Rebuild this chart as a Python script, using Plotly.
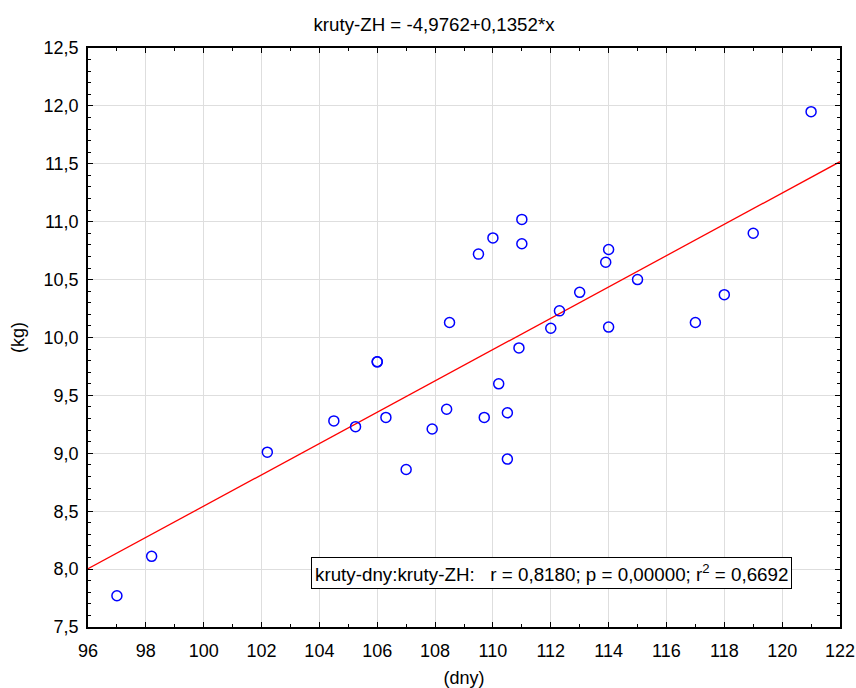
import numpy as np
import plotly.graph_objects as go

# Data
days = [97.0, 98.2, 102.2, 104.5, 105.25, 106.0, 106.0, 106.3, 107.0, 107.9,
        108.4, 108.5, 109.5, 110.0, 110.2, 109.7, 110.5, 110.5, 110.9, 111.0,
        111.0, 112.0, 112.3, 113.0, 113.9, 114.0, 114.0, 115.0, 117.0, 118.0,
        119.0, 121.0]
weight = [7.77, 8.11, 9.01, 9.28, 9.23, 9.79, 9.79, 9.31, 8.86, 9.21,
          9.38, 10.13, 10.72, 10.86, 9.60, 9.31, 9.35, 8.95, 9.91, 11.02,
          10.81, 10.08, 10.23, 10.39, 10.65, 10.76, 10.09, 10.50, 10.13, 10.37,
          10.90, 11.95]

intercept = -4.9762
slope = 0.1352
x_range = [96, 122]
y_range = [7.5, 12.5]
x_ticks = list(range(96, 123, 2))
y_ticks = [7.5, 8.0, 8.5, 9.0, 9.5, 10.0, 10.5, 11.0, 11.5, 12.0, 12.5]

title_text = "kruty-ZH = -4,9762+0,1352*x"
stats_text = "kruty-dny:kruty-ZH:   r = 0,8180; p = 0,00000; r<sup>2</sup> = 0,6692"

FONT = "Liberation Sans, Arial, sans-serif"
FS = 18

line_x = np.array(x_range, dtype=float)
line_y = intercept + slope * line_x

fig = go.Figure()
fig.add_trace(go.Scatter(
    x=line_x, y=line_y, mode="lines",
    line=dict(color="#ff0000", width=1.3),
    hoverinfo="skip", showlegend=False))
fig.add_trace(go.Scatter(
    x=days, y=weight, mode="markers",
    marker=dict(symbol="circle-open", size=10, color="#0000ff",
                line=dict(color="#0000ff", width=1.5)),
    showlegend=False))

axis_common = dict(
    showline=True, linecolor="black", linewidth=1.5, mirror="allticks",
    ticks="inside", ticklen=5, tickwidth=1, tickcolor="black",
    showgrid=True, gridcolor="#dedede", gridwidth=1,
    zeroline=False, automargin=False,
    tickfont=dict(family=FONT, size=FS, color="black"),
)

fig.update_xaxes(
    range=x_range, tickvals=x_ticks, tickformat="d",
    minor=dict(dtick=1, ticks="inside", ticklen=3, tickcolor="black", showgrid=False),
    title=dict(text="(dny)", font=dict(family=FONT, size=FS, color="black"), standoff=14),
    ticklabelstandoff=7,
    **axis_common)
fig.update_yaxes(
    range=y_range, tickvals=y_ticks, tickformat=".1f",
    minor=dict(dtick=0.1, ticks="inside", ticklen=3, tickcolor="black", showgrid=False),
    title=dict(text="(kg)", font=dict(family=FONT, size=FS, color="black"), standoff=14),
    ticklabelstandoff=4,
    **axis_common)

fig.update_layout(title=dict(text=title_text, x=434 / 856, xanchor="center",
                             y=1 - 24 / 688, yanchor="middle", xref="container", yref="container",
                             font=dict(family=FONT, size=18.7, color="black")))

fig.add_annotation(
    x=(551.5 - 88) / 752, y=1 - (573 - 48) / 579, xref="paper", yref="paper",
    xanchor="center", yanchor="middle",
    text=stats_text, showarrow=False,
    bordercolor="black", borderwidth=1, borderpad=3, bgcolor="white",
    font=dict(family=FONT, size=18.8, color="black"))

fig.update_layout(
    width=856, height=688,
    margin=dict(l=88, r=16, t=48, b=61),
    paper_bgcolor="white", plot_bgcolor="white",
    separators=", ",
    font=dict(family=FONT, size=FS, color="black"),
)

fig.write_html("out.html")
